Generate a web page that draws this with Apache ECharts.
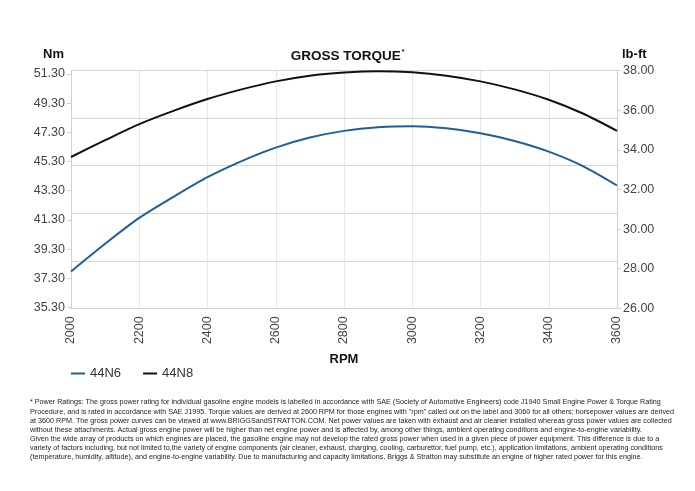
<!DOCTYPE html>
<html>
<head>
<meta charset="utf-8">
<script src="https://cdn.jsdelivr.net/npm/echarts@6/dist/echarts.min.js"></script>
<style>html,body{margin:0;padding:0;background:#fff}#c{width:695px;height:491px}</style>
</head>
<body>
<div id="c"></div>
<script>
const rpm = [2000, 2100, 2200, 2300, 2400, 2500, 2600, 2700, 2800, 2900, 3000, 3100, 3200, 3300, 3400, 3500, 3600];
const n6 = [37.77, 39.67, 41.44, 42.88, 44.23, 45.33, 46.25, 46.94, 47.40, 47.65, 47.72, 47.58, 47.24, 46.71, 45.98, 44.99, 43.66];
const n8 = [45.61, 46.76, 47.86, 48.77, 49.58, 50.24, 50.79, 51.18, 51.39, 51.48, 51.41, 51.18, 50.79, 50.24, 49.53, 48.59, 47.40];
const nmTicks = [35.3, 37.3, 39.3, 41.3, 43.3, 45.3, 47.3, 49.3, 51.3];
const seriesNames = ['44N6', '44N8'];
const footnote = [
  '* Power Ratings: The gross power rating for individual gasoline engine models is labelled in accordance with SAE (Society of Automotive Engineers) code J1940 Small Engine Power & Torque Rating',
  'Procedure, and is rated in accordance with SAE J1995. Torque values are derived at 2600 RPM for those engines with "rpm" called out on the label and 3060 for all others; horsepower values are derived',
  'at 3600 RPM. The gross power curves can be viewed at www.BRIGGSandSTRATTON.COM. Net power values are taken with exhaust and air cleaner installed whereas gross power values are collected',
  'without these attachments. Actual gross engine power will be higher than net engine power and is affected by, among other things, ambient operating conditions and engine-to-engine variability.',
  'Given the wide array of products on which engines are placed, the gasoline engine may not develop the rated gross power when used in a given piece of power equipment. This difference is due to a',
  'variety of factors including, but not limited to,the variety of engine components (air cleaner, exhaust, charging, cooling, carburettor, fuel pump, etc.), application limitations, ambient operating conditions',
  '(temperature, humidity, altitude), and engine-to-engine variability. Due to manufacturing and capacity limitations, Briggs & Stratton may substitute an engine of higher rated power for this engine.'
];

const FONT = 'Liberation Sans, Arial, sans-serif';
const chart = echarts.init(document.getElementById('c'), null, {renderer: 'canvas'});

const graphics = [
  {type: 'text', left: 43, top: 48, style: {text: 'Nm', font: 'bold 13px ' + FONT, fill: '#111'}},
  {type: 'text', left: 622, top: 48, style: {text: 'lb-ft', font: 'bold 13px ' + FONT, fill: '#111'}}
];
footnote.forEach((line, i) => {
  graphics.push({type: 'text', left: 30, top: 399 + i * 9.05,
    style: {text: line, font: '7.2px ' + FONT, fill: '#222'}});
});

const ln = (v) => v.map((y, i) => [rpm[i], y]);

chart.setOption({
  animation: false,
  title: {
    text: '{t|GROSS TORQUE}{s|*}',
    left: 'center', top: 44,
    textStyle: {rich: {
      t: {fontFamily: FONT, fontWeight: 'bold', fontSize: 13.5, color: '#111'},
      s: {fontFamily: FONT, fontWeight: 'bold', fontSize: 7, color: '#111', verticalAlign: 'top', padding: [0, 0, 6, 1]}
    }}
  },
  legend: {
    left: 66, top: 362,
    itemWidth: 14, itemHeight: 2, itemGap: 22,
    icon: 'rect',
    textStyle: {fontFamily: FONT, fontSize: 13, color: '#333'},
    data: seriesNames
  },
  graphic: graphics,
  grid: {left: 71, right: 78, top: 70.7, bottom: 182.7, containLabel: false},
  xAxis: {
    type: 'value', min: 2000, max: 3600, interval: 200,
    name: 'RPM', nameLocation: 'middle', nameGap: 45,
    nameTextStyle: {fontFamily: FONT, fontWeight: 'bold', fontSize: 13, color: '#111'},
    axisLine: {show: true, lineStyle: {color: '#d0d0d0'}},
    axisTick: {show: false},
    axisLabel: {rotate: 90, margin: 8, fontFamily: FONT, fontSize: 12.5, color: '#444',
      formatter: (v) => String(v)},
    splitLine: {show: true, lineStyle: {color: '#cfcfcf', type: 'dotted', width: 1}}
  },
  yAxis: [
    {
      type: 'value', position: 'left', min: 35.25, max: 51.52,
      axisLine: {show: true, lineStyle: {color: '#d0d0d0'}},
      axisTick: {show: true, length: 4, customValues: nmTicks, lineStyle: {color: '#d0d0d0'}},
      axisLabel: {customValues: nmTicks, margin: 6, fontFamily: FONT, fontSize: 12.5, color: '#444',
        formatter: (v) => v.toFixed(2)},
      splitLine: {show: false}
    },
    {
      type: 'value', position: 'right', min: 26, max: 38, interval: 2,
      axisLine: {show: true, lineStyle: {color: '#d0d0d0'}},
      axisTick: {show: true, length: 4, lineStyle: {color: '#d0d0d0'}},
      axisLabel: {margin: 6, fontFamily: FONT, fontSize: 12.5, color: '#444',
        formatter: (v) => v.toFixed(2)},
      splitLine: {show: false}
    },
    {
      type: 'value', position: 'left', min: 0, max: 5, interval: 1,
      axisLine: {show: false}, axisTick: {show: false}, axisLabel: {show: false},
      splitLine: {show: true, lineStyle: {color: '#d6d6d6', width: 1}}
    }
  ],
  series: [
    {name: seriesNames[0], type: 'line', yAxisIndex: 0, data: ln(n6), smooth: 0.3, showSymbol: false,
      symbol: 'none', lineStyle: {color: '#1f5f99', width: 2}, itemStyle: {color: '#1f5f99'}, z: 5},
    {name: seriesNames[1], type: 'line', yAxisIndex: 0, data: ln(n8), smooth: 0.3, showSymbol: false,
      symbol: 'none', lineStyle: {color: '#111111', width: 2}, itemStyle: {color: '#111111'}, z: 5}
  ]
});
</script>
</body>
</html>
